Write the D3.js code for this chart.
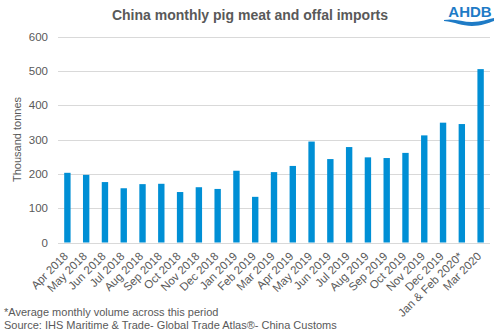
<!DOCTYPE html>
<html><head><meta charset="utf-8">
<script src="https://cdn.jsdelivr.net/npm/d3@7"></script>
<style>body{margin:0;background:#fff;}svg{display:block;font-family:"Liberation Sans",Arial,sans-serif;}</style>
</head><body>
<script>
const categories = ["Apr 2018","May 2018","Jun 2018","Jul 2018","Aug 2018","Sep 2018","Oct 2018","Nov 2018","Dec 2018","Jan 2019","Feb 2019","Mar 2019","Apr 2019","May 2019","Jun 2019","Jul 2019","Aug 2019","Sep 2019","Oct 2019","Nov 2019","Dec 2019","Jan & Feb 2020*","Mar 2020"];
const values = [203,197,176,158,170,171,147,161,156,209,133,205,223,294,243,278,248,246,261,312,349,345,505];
const yTicks = [0,100,200,300,400,500,600];
const title = "China monthly pig meat and offal imports";
const yTitle = "Thousand tonnes";
const notes = ["*Average monthly volume across this period","Source: IHS Maritime & Trade- Global Trade Atlas®- China Customs"];

const W=500,H=334;
const svg=d3.select("body").append("svg").attr("width",W).attr("height",H);
const x=d3.scaleBand().domain(categories).range([58,490]).paddingInner(0.66).paddingOuter(0.33);
const y=d3.scaleLinear().domain([0,600]).range([242.5,36.5]);
const grey="#595959";

svg.append("g").selectAll("line").data(yTicks).join("line")
 .attr("x1",58).attr("x2",490).attr("y1",d=>Math.round(y(d))+0.5).attr("y2",d=>Math.round(y(d))+0.5)
 .attr("stroke","#d9d9d9").attr("stroke-width",1);

svg.append("g").selectAll("text").data(yTicks).join("text")
 .attr("x",48).attr("y",d=>y(d)+4).attr("text-anchor","end").attr("font-size",11.5).attr("fill",grey).text(d=>d);

svg.append("text").attr("transform",`translate(21,${(y(0)+y(600))/2}) rotate(-90)`).attr("text-anchor","middle")
 .attr("font-size",11).attr("fill",grey).text(yTitle);

svg.append("g").selectAll("rect").data(values).join("rect")
 .attr("x",(d,i)=>x(categories[i])).attr("width",x.bandwidth())
 .attr("y",d=>y(d)).attr("height",d=>y(0)-y(d)).attr("fill","#008fd5");

svg.append("g").selectAll("text").data(categories).join("text")
 .attr("transform",d=>`translate(${x(d)+x.bandwidth()/2+1.5},257) rotate(-45)`)
 .attr("text-anchor","end").attr("font-size",11.5).attr("fill",grey).text(d=>d);

svg.append("text").attr("x",250).attr("y",20).attr("text-anchor","middle").attr("font-size",14).attr("font-weight","bold").attr("fill",grey).text(title);

svg.selectAll(".note").data(notes).join("text").attr("class","note")
 .attr("x",4).attr("y",(d,i)=>316+i*13).attr("font-size",11).attr("fill",grey).text(d=>d);

// logo
const logo=svg.append("g");
logo.append("text").attr("x",470).attr("y",17).attr("text-anchor","middle").attr("font-size",15).attr("font-weight","bold").attr("fill","#1e7bc6").text("AHDB");
logo.append("path").attr("d","M444,20 C455,18 462,22 472,22 C481,22 488,19 494,18 L494,21 C488,23 481,26 472,26 C462,26 455,22 444,21 Z").attr("fill","#1e7bc6");
</script>
</body></html>
